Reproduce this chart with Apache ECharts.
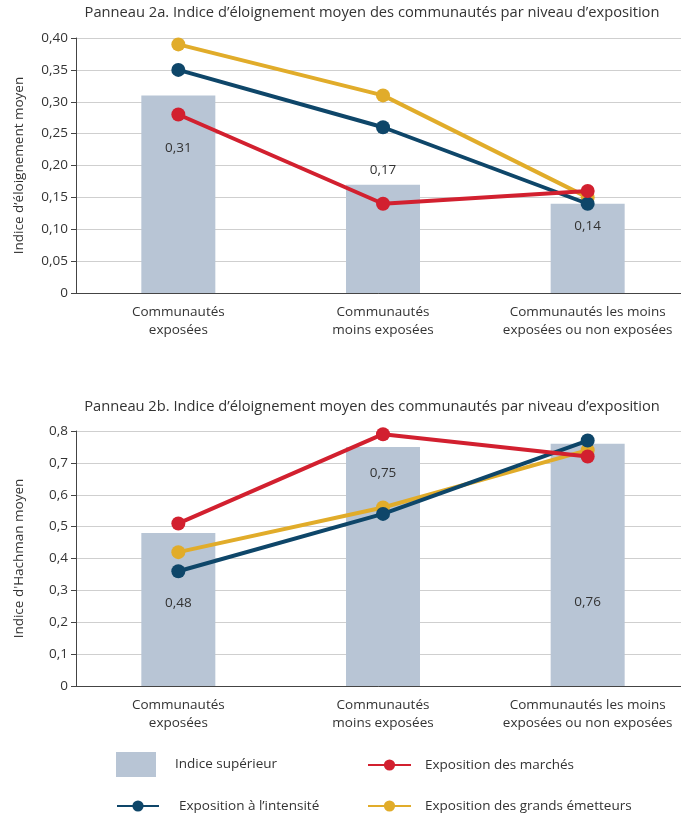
<!DOCTYPE html>
<html><head><meta charset="utf-8">
<script src="https://cdn.jsdelivr.net/npm/echarts@6/dist/echarts.min.js"></script>
<style>html,body{margin:0;padding:0;background:#fff}#c{width:681px;height:816px}</style>
</head><body><div id="c"></div>
<script>
const categories = ['Communautés\nexposées', 'Communautés\nmoins exposées', 'Communautés les moins\nexposées ou non exposées'];
const titleA = 'Panneau 2a. Indice d’éloignement moyen des communautés par niveau d’exposition';
const titleB = 'Panneau 2b. Indice d’éloignement moyen des communautés par niveau d’exposition';
const yNameA = 'Indice d’éloignement moyen';
const yNameB = "Indice d'Hachman moyen";
const seriesNames = ['Indice supérieur', 'Exposition des marchés', 'Exposition à l’intensité', 'Exposition des grands émetteurs'];
// Panel 2a
const barA = [0.31, 0.17, 0.14];
const marketA = [0.28, 0.14, 0.16];
const intensityA = [0.35, 0.26, 0.14];
const emittersA = [0.39, 0.31, 0.15];
// Panel 2b
const barB = [0.48, 0.75, 0.76];
const marketB = [0.51, 0.79, 0.72];
const intensityB = [0.36, 0.54, 0.77];
const emittersB = [0.42, 0.56, 0.74];

const colors = { bar: '#b8c5d5', market: '#d2202f', intensity: '#0e4669', emitters: '#e1ac2a' };
const FONT = 'Open Sans';
const FS = 13.5;
// label placement (style only): offset in px from bar top
const labelOffA = [41, -26, 10];
const labelOffB = [58, 14, 146];

const chart = echarts.init(document.getElementById('c'), null, { renderer: 'canvas' });

function yAxis(gi, max, interval, dec, name) {
  return {
    gridIndex: gi, type: 'value', min: 0, max: max, interval: interval,
    name: name, nameLocation: 'middle', nameGap: 50, nameRotate: 90,
    nameTextStyle: { fontFamily: FONT, fontSize: FS, color: '#333' },
    axisLine: { show: true, lineStyle: { color: '#444', width: 1 } },
    axisTick: { show: true, length: 5, lineStyle: { color: '#444' } },
    axisLabel: { fontFamily: FONT, fontSize: FS, color: '#333', margin: 8,
      formatter: v => v === 0 ? '0' : v.toFixed(dec).replace('.', ',') },
    splitLine: { show: true, lineStyle: { color: '#cfcfcf', width: 1 } }
  };
}
function xAxis(gi) {
  return {
    gridIndex: gi, type: 'category', data: categories,
    axisLine: { show: true, lineStyle: { color: '#444' } },
    axisTick: { show: false },
    axisLabel: { fontFamily: FONT, fontSize: FS, color: '#333', lineHeight: 18, margin: 10, interval: 0 }
  };
}
function barSeries(gi, vals, offs) {
  return {
    name: seriesNames[0], type: 'bar', xAxisIndex: gi, yAxisIndex: gi, barWidth: 74,
    itemStyle: { color: colors.bar }, z: 1,
    data: vals.map((v, i) => ({
      value: v,
      label: { show: true, position: 'insideTop', offset: [0, offs[i]], fontFamily: FONT, fontSize: FS, color: '#333',
        formatter: p => p.value.toFixed(2).replace('.', ',') }
    }))
  };
}
function lineSeries(gi, idx, vals, color, z) {
  return {
    name: seriesNames[idx], type: 'line', xAxisIndex: gi, yAxisIndex: gi, data: vals,
    symbol: 'circle', symbolSize: 14, z: z,
    lineStyle: { color: color, width: 4 }, itemStyle: { color: color }
  };
}
function legend(left, top, w, h, item, gap) {
  return {
    left: left, top: top, padding: 0, itemWidth: w, itemHeight: h, data: [item],
    textStyle: { fontFamily: FONT, fontSize: FS, color: '#333', padding: [0, 0, 0, gap] }
  };
}

chart.setOption({
  animation: false,
  title: [
    { text: titleA, left: 367, top: 0, textAlign: 'center', textStyle: { fontFamily: FONT, fontSize: 14.7, fontWeight: 'normal', color: '#333' } },
    { text: titleB, left: 367, top: 394, textAlign: 'center', textStyle: { fontFamily: FONT, fontSize: 14.7, fontWeight: 'normal', color: '#333' } }
  ],
  grid: [
    { left: 76, width: 614, top: 38, height: 255, outerBoundsMode: 'none', containLabel: false },
    { left: 76, width: 614, top: 431, height: 255, outerBoundsMode: 'none', containLabel: false }
  ],
  xAxis: [xAxis(0), xAxis(1)],
  yAxis: [yAxis(0, 0.4, 0.05, 2, yNameA), yAxis(1, 0.8, 0.1, 1, yNameB)],
  legend: [
    legend(116, 752, 40, 25, { name: seriesNames[0], icon: 'rect' }, 14),
    legend(367, 758, 43, 14, seriesNames[1], 9),
    legend(116, 799, 42, 14, seriesNames[2], 15),
    legend(367, 799, 43, 14, seriesNames[3], 9)
  ],
  series: [
    barSeries(0, barA, labelOffA),
    lineSeries(0, 3, emittersA, colors.emitters, 3),
    lineSeries(0, 2, intensityA, colors.intensity, 4),
    lineSeries(0, 1, marketA, colors.market, 5),
    barSeries(1, barB, labelOffB),
    lineSeries(1, 3, emittersB, colors.emitters, 3),
    lineSeries(1, 2, intensityB, colors.intensity, 4),
    lineSeries(1, 1, marketB, colors.market, 5)
  ]
});
</script></body></html>
